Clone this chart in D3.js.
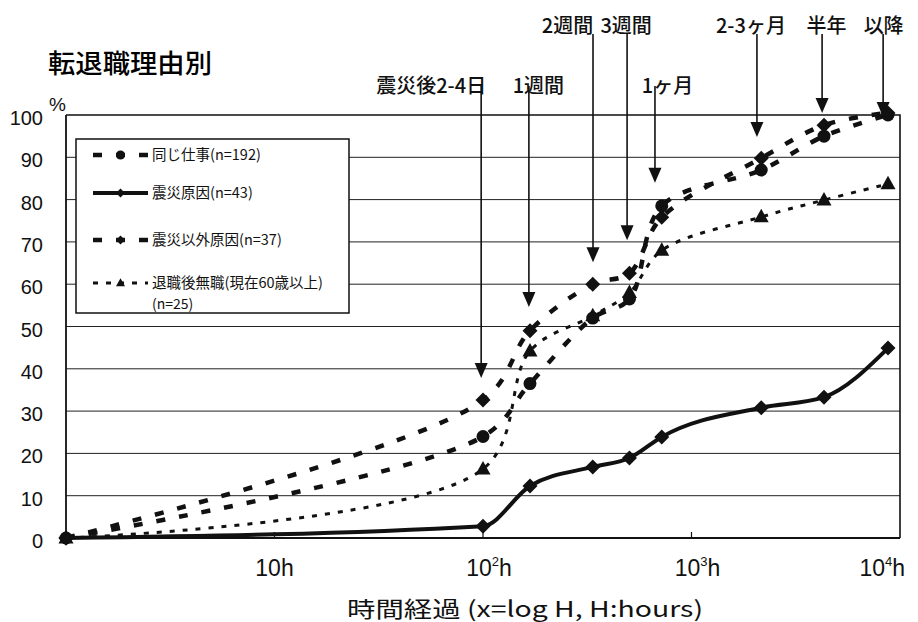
<!DOCTYPE html>
<html><head><meta charset="utf-8">
<script src="https://cdn.jsdelivr.net/npm/d3@7"></script>
<style>body{margin:0;background:#fff} svg{display:block}</style>
</head><body>
<svg id="chart" width="918" height="622"></svg>
<script>
// ---------- data ----------
const hours = [1, 100, 168, 336, 504, 720, 2160, 4320, 8760];
const seriesNames = ["同じ仕事(n=192)", "震災原因(n=43)", "震災以外原因(n=37)", "退職後無職(現在60歳以上)"];
const sameJob      = [0, 24,   36.5, 52,   56.5, 78.5, 87,   95,   100];
const quakeCause   = [0, 2.8,  12.3, 16.8, 18.9, 23.9, 30.8, 33.3, 44.9];
const otherCause   = [0, 32.6, 49,   60,   62.6, 75.8, 89.8, 97.6, 100.5];
const retiredNoJob = [0, 16.3, 44.2, 52.5, 58,   68,   75.9, 79.9, 83.7];
const yTicks = [0, 10, 20, 30, 40, 50, 60, 70, 80, 90, 100];
const xTickValues = [10, 100, 1000, 10000];
const xTickExp = ["", "2", "3", "4"];
const annotLabels = ["震災後2-4日", "1週間", "2週間", "3週間", "1ヶ月", "2-3ヶ月", "半年", "以降"];
const annotHours  = [98, 166, 337, 491, 668, 2060, 4230, 8300];
const annotTips   = [37.8, 54.6, 65.2, 70.4, 84, 94.8, 100.5, 99.5];
const annotRows   = [2, 2, 1, 1, 2, 1, 1, 1];

// ---------- layout ----------
const svg = d3.select("#chart");
const L = 66, R = 900, T = 115, B = 538;
const x = d3.scaleLog().domain([1, 10000]).range([L, R]);
const y = d3.scaleLinear().domain([0, 100]).range([B, T]);
const JP = "'Noto Sans CJK JP', 'Noto Sans', sans-serif";
const AR = "'Liberation Sans', Arial, sans-serif";

const styles = [
  {marker: "circle",   dash: "9,14", width: 4.5, curve: d3.curveCatmullRom.alpha(0.5)},
  {marker: "diamond",  dash: null,   width: 4,   curve: d3.curveMonotoneX},
  {marker: "diamond",  dash: "9,14", width: 4.5, curve: d3.curveCatmullRom.alpha(0.5)},
  {marker: "triangle", dash: "5,8",  width: 3,   curve: d3.curveCatmullRom.alpha(0.5)}
];
const seriesValues = [sameJob, quakeCause, otherCause, retiredNoJob];
const series = seriesNames.map((n, i) => ({name: n, values: seriesValues[i], ...styles[i]}));

// title
svg.append("text").attr("x", 48).attr("y", 73)
  .attr("font-family", JP).attr("font-size", 26).attr("font-weight", 500)
  .attr("textLength", 164).attr("lengthAdjust", "spacingAndGlyphs")
  .text("転退職理由別");

// gridlines
svg.append("g").selectAll("line").data(yTicks.filter(d => d > 0 && d < 100)).join("line")
  .attr("x1", L).attr("x2", R).attr("y1", d => y(d)).attr("y2", d => y(d))
  .attr("stroke", "#222").attr("stroke-width", 1);

// frame
svg.append("path")
  .attr("d", `M${L},${T}H${R}V${B}`)
  .attr("fill", "none").attr("stroke", "#111").attr("stroke-width", 1.6);
svg.append("path")
  .attr("d", `M${L},${T}V${B}H${R}`)
  .attr("fill", "none").attr("stroke", "#111").attr("stroke-width", 1.8);

// x minor ticks
svg.append("g").selectAll("line").data(xTickValues.slice(0, 3)).join("line")
  .attr("x1", d => x(d)).attr("x2", d => x(d)).attr("y1", B).attr("y2", B - 6)
  .attr("stroke", "#111").attr("stroke-width", 1.2);

// y tick labels
svg.append("g").selectAll("text").data(yTicks).join("text")
  .attr("x", 43).attr("y", d => y(d) + 10)
  .attr("text-anchor", "end").attr("font-family", AR).attr("font-size", 20)
  .attr("fill", "#111").text(d => d);
svg.append("text").attr("x", 49).attr("y", 111)
  .attr("font-family", AR).attr("font-size", 19).attr("fill", "#111").text("%");

// x tick labels
const xl = svg.append("g").selectAll("text").data(xTickValues).join("text")
  .attr("x", (d, i) => i === 3 ? x(d) + 5 : x(d) + (i === 0 ? 0 : 6))
  .attr("y", 576)
  .attr("text-anchor", (d, i) => i === 3 ? "end" : "middle")
  .attr("font-family", AR).attr("font-size", 23).attr("fill", "#111");
xl.append("tspan").text("10");
xl.append("tspan").attr("font-size", 13).attr("dy", -10).text((d, i) => xTickExp[i]);
xl.append("tspan").attr("dy", (d, i) => xTickExp[i] ? 10 : 0).text("h");

// axis title
svg.append("text").attr("x", 347).attr("y", 617)
  .attr("font-family", JP).attr("font-size", 22).attr("fill", "#111")
  .attr("textLength", 356).attr("lengthAdjust", "spacingAndGlyphs")
  .text("時間経過 (x=log H, H:hours)");

// series lines
svg.append("g").selectAll("path").data(series).join("path")
  .attr("d", s => d3.line().x((d, i) => x(hours[i])).y(d => y(d)).curve(s.curve)(s.values))
  .attr("fill", "none").attr("stroke", "#111")
  .attr("stroke-width", s => s.width)
  .attr("stroke-dasharray", s => s.dash);

// markers
function markerPath(type, cx, cy, s) {
  if (type === "circle") {
    return `M${cx - s},${cy}a${s},${s} 0 1,0 ${2 * s},0a${s},${s} 0 1,0 ${-2 * s},0Z`;
  }
  if (type === "diamond") {
    return `M${cx},${cy - s}L${cx + s},${cy}L${cx},${cy + s}L${cx - s},${cy}Z`;
  }
  const h = s * 1.8;
  return `M${cx},${cy - h * 0.6}L${cx + s},${cy + h * 0.4}L${cx - s},${cy + h * 0.4}Z`;
}
const markerSize = {circle: 6.5, diamond: 7.5, triangle: 7.5};
series.forEach(s => {
  svg.append("g").selectAll("path").data(s.values).join("path")
    .attr("d", (d, i) => markerPath(s.marker, x(hours[i]), y(d), markerSize[s.marker]))
    .attr("fill", "#111");
});

// annotations (arrows)
const rowTextY = {1: 33, 2: 93};
const rowLineY = {1: 34, 2: 86};
const labelDx = [-50, 9.5, -25.5, -1, 12.5, -6, 4.5, 0.5];
const ann = svg.append("g");
annotLabels.forEach((lab, i) => {
  const ax = x(annotHours[i]);
  const tip = y(annotTips[i]);
  ann.append("line").attr("x1", ax).attr("x2", ax)
    .attr("y1", rowLineY[annotRows[i]]).attr("y2", tip - 12)
    .attr("stroke", "#111").attr("stroke-width", 1.6);
  ann.append("path")
    .attr("d", `M${ax - 6.5},${tip - 15}L${ax + 6.5},${tip - 15}L${ax},${tip}Z`)
    .attr("fill", "#111");
  ann.append("text").attr("x", ax + labelDx[i]).attr("y", rowTextY[annotRows[i]])
    .attr("text-anchor", "middle").attr("font-family", JP).attr("font-size", 20)
    .attr("font-weight", 500).attr("fill", "#111").text(lab);
});

// legend
const lg = svg.append("g");
lg.append("rect").attr("x", 76).attr("y", 139).attr("width", 273).attr("height", 174)
  .attr("fill", "#fff").attr("stroke", "#111").attr("stroke-width", 1.5);
const legendY = [155, 193, 240, 283];
const legendMarker = {circle: 4.5, diamond: 4.5, triangle: 4.5};
series.forEach((s, i) => {
  const ly = legendY[i];
  lg.append("line").attr("x1", 93).attr("x2", 148).attr("y1", ly).attr("y2", ly)
    .attr("stroke", "#111").attr("stroke-width", s.width)
    .attr("stroke-dasharray", s.dash);
  lg.append("path").attr("d", markerPath(s.marker, 120.5, ly, legendMarker[s.marker])).attr("fill", "#111");
  lg.append("text").attr("x", 152).attr("y", ly + 5)
    .attr("font-family", JP).attr("font-size", 14.5).attr("fill", "#111")
    .text(s.name);
});
lg.append("text").attr("x", 152).attr("y", 309)
  .attr("font-family", JP).attr("font-size", 14).attr("fill", "#111").text("(n=25)");
</script>
</body></html>
